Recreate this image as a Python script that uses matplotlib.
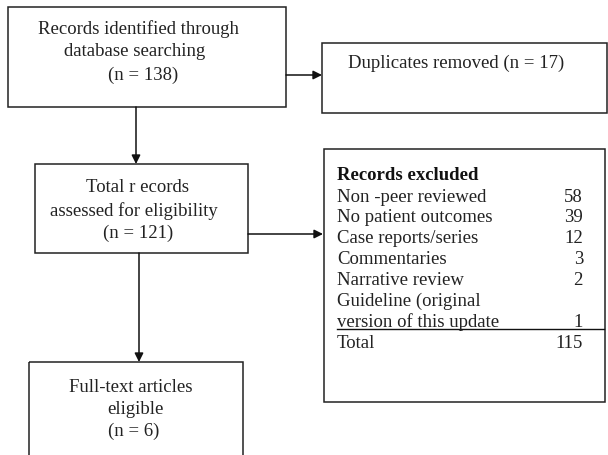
import matplotlib.pyplot as plt
from matplotlib.patches import Rectangle

# flowchart content
identified_text = ["Records identified through", "database searching", "(n = 138)"]
duplicates_text = "Duplicates removed (n = 17)"
assessed_text = ["Total r ecords", "assessed for eligibility", "(n = 121)"]
eligible_text = ["Full-text articles", "eligible", "(n = 6)"]

excluded_title = "Records excluded"
excluded_reasons = ["Non -peer reviewed", "No patient outcomes", "Case reports/series",
                    "Commentaries", "Narrative review", "Guideline (original",
                    "version of this update"]
excluded_counts = ["58", "39", "12", "3", "2", "", "1"]
excluded_total = "115"

plt.rcParams['font.family'] = ['Liberation Serif', 'DejaVu Serif']
FS = 13.5
EC = '#222222'

fig = plt.figure(figsize=(6.08, 4.55), dpi=100)
ax = fig.add_axes([0, 0, 1, 1])
ax.set_xlim(0, 608)
ax.set_ylim(455, 0)
ax.axis('off')

def box(x0, y0, x1, y1):
    ax.add_patch(Rectangle((x0, y0), x1 - x0, y1 - y0, fill=False,
                           edgecolor=EC, lw=1.1))

def arrow(x0, y0, x1, y1):
    ax.annotate('', xy=(x1, y1), xytext=(x0, y0),
                arrowprops=dict(arrowstyle='-|>', color='#111111', lw=1.1,
                                mutation_scale=13, shrinkA=0, shrinkB=0))

def lines(xs, ys, texts):
    for x, y, t in zip(xs, ys, texts):
        ax.text(x, y, t, ha='center', va='center', fontsize=FS, color='#222222')

# top box
box(8, 7, 286, 107)
lines([138, 135, 143], [29, 52, 75], identified_text)
arrow(286, 75, 322, 75)
arrow(136, 107, 136, 164)

# duplicates
box(322, 43, 607, 113)
ax.text(348, 63, duplicates_text, ha='left', va='center', fontsize=FS, color='#222222')

# assessed box
box(35, 164, 248, 253)
lines([137, 134, 138], [188, 211, 233], assessed_text)
arrow(248, 234, 323, 234)
arrow(139, 253, 139, 362)

# eligible box (runs off the bottom)
box(29, 362, 243, 470)
lines([131, 135, 134], [387, 409, 431], eligible_text)

# excluded box
box(324, 149, 605, 402)
ax.text(337, 175, excluded_title, ha='left', va='center', fontsize=FS,
        fontweight='bold', color='#111111')
for i, (r, c) in enumerate(zip(excluded_reasons, excluded_counts)):
    y = 197 + i * 20.9
    ax.text(337, y, r, ha='left', va='center', fontsize=FS, color='#222222')
    if c:
        ax.text(583, y, c, ha='right', va='center', fontsize=FS, color='#222222')
ax.plot([337, 604], [329, 329], color='#111111', lw=1.0)
ax.text(337, 343, "Total", ha='left', va='center', fontsize=FS, color='#222222')
ax.text(583, 343, excluded_total, ha='right', va='center', fontsize=FS, color='#222222')

fig.savefig('out.png', dpi=100)
